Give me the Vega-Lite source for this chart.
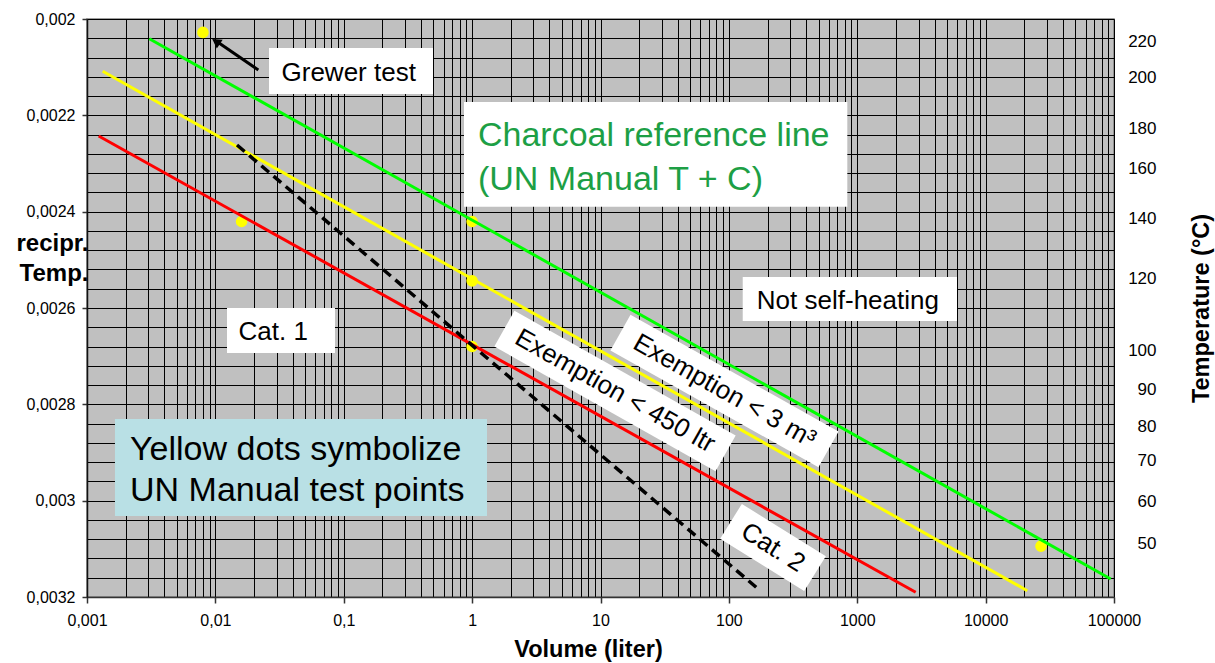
{
  "$schema": "https://vega.github.io/schema/vega-lite/v6.json",
  "width": 1027,
  "height": 578,
  "autosize": {"type": "none"},
  "padding": {"left": 87, "top": 19, "right": 101, "bottom": 66},
  "background": "white",
  "config": {
    "font": "Liberation Sans",
    "view": {"fill": "#c0c0c0", "stroke": "#808080", "strokeWidth": 1.5}
  },
  "datasets": {
    "dots": [
      {"volume": 0.008, "recip": 0.0020278},
      {"volume": 0.016, "recip": 0.0024204},
      {"volume": 1, "recip": 0.0024204},
      {"volume": 1, "recip": 0.0025436},
      {"volume": 1, "recip": 0.0026799},
      {"volume": 27000, "recip": 0.0030945}
    ],
    "lines": [
      {"series": "Charcoal reference line", "volume": 0.003057, "recip": 0.0020409},
      {"series": "Charcoal reference line", "volume": 94270, "recip": 0.0031626},
      {"series": "Exemption < 3 m³", "volume": 0.001325, "recip": 0.0021086},
      {"series": "Exemption < 3 m³", "volume": 21120, "recip": 0.0031869},
      {"series": "Cat. 1 / Cat. 2", "volume": 0.001233, "recip": 0.0022429},
      {"series": "Cat. 1 / Cat. 2", "volume": 2853, "recip": 0.0031902}
    ],
    "dashed": [
      {"series": "Exemption < 450 ltr", "volume": 0.01474, "recip": 0.0022616},
      {"series": "Exemption < 450 ltr", "volume": 164.7, "recip": 0.0031807}
    ],
    "arrow": [
      {"volume": 0.0216, "recip": 0.0021059},
      {"volume": 0.01067, "recip": 0.0020498}
    ],
    "arrowhead": [
      {"volume": 0.01011, "recip": 0.0020467}
    ],
    "boxes": [
      {"box": "Grewer test", "kind": "plain", "x1": 0.02617, "x2": 0.4957, "y1": 0.0020602, "y2": 0.0021557},
      {"box": "Charcoal", "kind": "plain", "x1": 0.8643, "x2": 836.6, "y1": 0.0021723, "y2": 0.0023897},
      {"box": "Not self-heating", "kind": "plain", "x1": 128.2, "x2": 5984, "y1": 0.0025356, "y2": 0.002627},
      {"box": "Cat. 1", "kind": "plain", "x1": 0.01232, "x2": 0.08545, "y1": 0.0026, "y2": 0.0026934},
      {"box": "Yellow dots", "kind": "note", "x1": 0.001652, "x2": 1.306, "y1": 0.0028304, "y2": 0.0030318}
    ],
    "tilted": [
      {"box": "450 ltr", "volume": 1.784, "recip": 0.0026427},
      {"box": "450 ltr", "volume": 94.3, "recip": 0.0029018},
      {"box": "3 m3", "volume": 14.31, "recip": 0.002651},
      {"box": "3 m3", "volume": 597, "recip": 0.0028935},
      {"box": "Cat. 2", "volume": 103.9, "recip": 0.0030428},
      {"box": "Cat. 2", "volume": 468.8, "recip": 0.0031516}
    ],
    "smalltext": [
      {"label": "Grewer test", "volume": 0.03275, "recip": 0.0021121},
      {"label": "Cat. 1", "volume": 0.01514, "recip": 0.0026504},
      {"label": "Not self-heating", "volume": 165.1, "recip": 0.0025848}
    ],
    "charcoaltext": [
      {"label": "Charcoal reference line\n(UN Manual T + C)", "volume": 1.111, "recip": 0.0022429}
    ],
    "notetext": [
      {"label": "Yellow dots symbolize\nUN Manual test points", "volume": 0.002163, "recip": 0.0028948}
    ],
    "exemptiontext": [
      {"label": "Exemption < 450 ltr", "volume": 12.97, "recip": 0.0027723},
      {"label": "Exemption < 3 m³", "volume": 92.5, "recip": 0.0027723}
    ],
    "cat2text": [
      {"label": "Cat. 2", "volume": 220.7, "recip": 0.0030972}
    ]
  },
  "resolve": {"axis": {"x": "independent", "y": "independent"}},
  "layer": [
    {
      "data": {"name": "dots"},
      "mark": {"type": "circle", "color": "#ffff00", "opacity": 1, "size": 135},
      "encoding": {
        "x": {
          "field": "volume", "type": "quantitative",
          "scale": {"type": "log", "domain": [0.001, 100000]},
          "axis": {
            "orient": "top", "grid": true, "gridColor": "#000000", "gridWidth": 1, "gridOpacity": 1,
            "labels": false, "ticks": false, "domain": false, "title": null,
            "values": [0.001, 0.002, 0.003, 0.004, 0.005, 0.006, 0.007, 0.008, 0.009,
                       0.01, 0.02, 0.03, 0.04, 0.05, 0.06, 0.07, 0.08, 0.09,
                       0.1, 0.2, 0.3, 0.4, 0.5, 0.6, 0.7, 0.8, 0.9,
                       1, 2, 3, 4, 5, 6, 7, 8, 9,
                       10, 20, 30, 40, 50, 60, 70, 80, 90,
                       100, 200, 300, 400, 500, 600, 700, 800, 900,
                       1000, 2000, 3000, 4000, 5000, 6000, 7000, 8000, 9000,
                       10000, 20000, 30000, 40000, 50000, 60000, 70000, 80000, 90000, 100000]
          }
        },
        "y": {
          "field": "recip", "type": "quantitative",
          "scale": {"domain": [0.002, 0.0032], "reverse": true, "nice": false, "zero": false},
          "axis": {
            "orient": "left", "grid": true, "gridColor": "#000000", "gridWidth": 1, "gridOpacity": 1,
            "labels": false, "ticks": false, "domain": false, "title": null,
            "values": [0.002, 0.00204, 0.00208, 0.00212, 0.00216, 0.0022, 0.00224, 0.00228, 0.00232, 0.00236,
                       0.0024, 0.00244, 0.00248, 0.00252, 0.00256, 0.0026, 0.00264, 0.00268, 0.00272, 0.00276,
                       0.0028, 0.00284, 0.00288, 0.00292, 0.00296, 0.003, 0.00304, 0.00308, 0.00312, 0.00316, 0.0032]
          }
        }
      }
    },
    {
      "data": {"name": "lines"},
      "mark": {"type": "line", "strokeWidth": 3},
      "encoding": {
        "x": {
          "field": "volume", "type": "quantitative",
          "scale": {"type": "log", "domain": [0.001, 100000]},
          "axis": {
            "orient": "bottom", "grid": false,
            "values": [0.001, 0.01, 0.1, 1, 10, 100, 1000, 10000, 100000],
            "labelExpr": "replace(toString(datum.value), '.', ',')",
            "labelFlush": false, "labelOverlap": false,
            "labelFontSize": 16, "labelColor": "#000000", "labelPadding": 9,
            "tickSize": 6, "tickColor": "#333333", "tickWidth": 1.5,
            "domainColor": "#333333", "domainWidth": 1.5,
            "title": "Volume (liter)", "titleFontSize": 23.5, "titleFontWeight": "bold", "titleColor": "#000000",
            "titleX": 501, "titleY": 59, "titleBaseline": "alphabetic", "titleAlign": "center"
          }
        },
        "y": {
          "field": "recip", "type": "quantitative",
          "scale": {"domain": [0.002, 0.0032], "reverse": true, "nice": false, "zero": false},
          "axis": {
            "orient": "left", "grid": false,
            "values": [0.002, 0.0022, 0.0024, 0.0026, 0.0028, 0.003, 0.0032],
            "labelExpr": "replace(format(datum.value, '.4~f'), '.', ',')",
            "labelOverlap": false,
            "labelFontSize": 16, "labelColor": "#000000", "labelPadding": 7,
            "tickSize": 5, "tickColor": "#333333", "tickWidth": 1.5,
            "domainColor": "#111111", "domainWidth": 1.5,
            "title": ["recipr.", "Temp."], "titleAngle": 0, "titleAlign": "right", "titleBaseline": "alphabetic",
            "titleX": 1, "titleY": 231, "titleFontSize": 24, "titleFontWeight": "bold", "titleColor": "#000000",
            "titleLineHeight": 30
          }
        },
        "color": {
          "field": "series", "type": "nominal", "legend": null,
          "scale": {"domain": ["Charcoal reference line", "Exemption < 3 m³", "Cat. 1 / Cat. 2"],
                    "range": ["#00ff00", "#ffff00", "#ff0000"]}
        }
      }
    },
    {
      "data": {"name": "dashed"},
      "mark": {"type": "line", "strokeWidth": 3.5, "color": "#000000", "strokeDash": [10, 6]},
      "encoding": {
        "x": {"field": "volume", "type": "quantitative", "scale": {"type": "log", "domain": [0.001, 100000]}, "axis": null},
        "y": {"field": "recip", "type": "quantitative", "scale": {"domain": [0.002, 0.0032], "reverse": true, "nice": false, "zero": false}, "axis": null}
      }
    },
    {
      "data": {"name": "arrow"},
      "mark": {"type": "line", "strokeWidth": 3, "color": "#000000"},
      "encoding": {
        "x": {"field": "volume", "type": "quantitative", "scale": {"type": "log", "domain": [0.001, 100000]}, "axis": null},
        "y": {
          "field": "recip", "type": "quantitative",
          "scale": {"domain": [0.002, 0.0032], "reverse": true, "nice": false, "zero": false},
          "axis": {
            "orient": "right", "grid": false, "ticks": false, "tickSize": 0, "domain": false,
            "values": [0.0020471, 0.0021219, 0.0022269, 0.00231, 0.0024138, 0.0025383, 0.0026872, 0.0027682, 0.0028464, 0.0029156, 0.0030021, 0.0030885],
            "labelExpr": "toString(round((1 / datum.value - 273.15) / 10) * 10)",
            "labelOverlap": false,
            "labelFontSize": 17, "labelColor": "#000000", "labelAlign": "right", "labelPadding": 42,
            "title": "Temperature (°C)", "titleAngle": 270, "titleFontSize": 23.5, "titleFontWeight": "bold",
            "titleColor": "#000000", "titleX": 87, "titleY": 289, "titleBaseline": "middle", "titleAlign": "center"
          }
        }
      }
    },
    {
      "data": {"name": "arrowhead"},
      "mark": {"type": "point", "shape": "triangle-up", "filled": true, "color": "#000000", "opacity": 1, "size": 110, "angle": 304},
      "encoding": {
        "x": {"field": "volume", "type": "quantitative", "scale": {"type": "log", "domain": [0.001, 100000]}, "axis": null},
        "y": {"field": "recip", "type": "quantitative", "scale": {"domain": [0.002, 0.0032], "reverse": true, "nice": false, "zero": false}, "axis": null}
      }
    },
    {
      "data": {"name": "boxes"},
      "mark": {"type": "rect", "opacity": 1},
      "encoding": {
        "x": {"field": "x1", "type": "quantitative", "scale": {"type": "log", "domain": [0.001, 100000]}, "axis": null},
        "x2": {"field": "x2"},
        "y": {"field": "y1", "type": "quantitative", "scale": {"domain": [0.002, 0.0032], "reverse": true, "nice": false, "zero": false}, "axis": null},
        "y2": {"field": "y2"},
        "fill": {"field": "kind", "type": "nominal", "legend": null,
                 "scale": {"domain": ["plain", "note"], "range": ["#ffffff", "#b9e0e5"]}}
      }
    },
    {
      "data": {"name": "tilted"},
      "mark": {"type": "line", "strokeWidth": 41, "strokeCap": "butt", "color": "#ffffff"},
      "encoding": {
        "x": {"field": "volume", "type": "quantitative", "scale": {"type": "log", "domain": [0.001, 100000]}, "axis": null},
        "y": {"field": "recip", "type": "quantitative", "scale": {"domain": [0.002, 0.0032], "reverse": true, "nice": false, "zero": false}, "axis": null},
        "detail": {"field": "box", "type": "nominal"}
      }
    },
    {
      "data": {"name": "smalltext"},
      "mark": {"type": "text", "fontSize": 26, "align": "left", "baseline": "middle", "color": "#000000"},
      "encoding": {
        "x": {"field": "volume", "type": "quantitative", "scale": {"type": "log", "domain": [0.001, 100000]}, "axis": null},
        "y": {"field": "recip", "type": "quantitative", "scale": {"domain": [0.002, 0.0032], "reverse": true, "nice": false, "zero": false}, "axis": null},
        "text": {"field": "label", "type": "nominal"}
      }
    },
    {
      "data": {"name": "charcoaltext"},
      "mark": {"type": "text", "fontSize": 34, "align": "left", "baseline": "middle", "color": "#1d9f45", "lineBreak": "\n", "lineHeight": 44},
      "encoding": {
        "x": {"field": "volume", "type": "quantitative", "scale": {"type": "log", "domain": [0.001, 100000]}, "axis": null},
        "y": {"field": "recip", "type": "quantitative", "scale": {"domain": [0.002, 0.0032], "reverse": true, "nice": false, "zero": false}, "axis": null},
        "text": {"field": "label", "type": "nominal"}
      }
    },
    {
      "data": {"name": "notetext"},
      "mark": {"type": "text", "fontSize": 34, "align": "left", "baseline": "middle", "color": "#000000", "lineBreak": "\n", "lineHeight": 41.5},
      "encoding": {
        "x": {"field": "volume", "type": "quantitative", "scale": {"type": "log", "domain": [0.001, 100000]}, "axis": null},
        "y": {"field": "recip", "type": "quantitative", "scale": {"domain": [0.002, 0.0032], "reverse": true, "nice": false, "zero": false}, "axis": null},
        "text": {"field": "label", "type": "nominal"}
      }
    },
    {
      "data": {"name": "exemptiontext"},
      "mark": {"type": "text", "fontSize": 26, "align": "center", "baseline": "middle", "color": "#000000", "angle": 29.4},
      "encoding": {
        "x": {"field": "volume", "type": "quantitative", "scale": {"type": "log", "domain": [0.001, 100000]}, "axis": null},
        "y": {"field": "recip", "type": "quantitative", "scale": {"domain": [0.002, 0.0032], "reverse": true, "nice": false, "zero": false}, "axis": null},
        "text": {"field": "label", "type": "nominal"}
      }
    },
    {
      "data": {"name": "cat2text"},
      "mark": {"type": "text", "fontSize": 26, "align": "center", "baseline": "middle", "color": "#000000", "angle": 32},
      "encoding": {
        "x": {"field": "volume", "type": "quantitative", "scale": {"type": "log", "domain": [0.001, 100000]}, "axis": null},
        "y": {"field": "recip", "type": "quantitative", "scale": {"domain": [0.002, 0.0032], "reverse": true, "nice": false, "zero": false}, "axis": null},
        "text": {"field": "label", "type": "nominal"}
      }
    }
  ]
}
